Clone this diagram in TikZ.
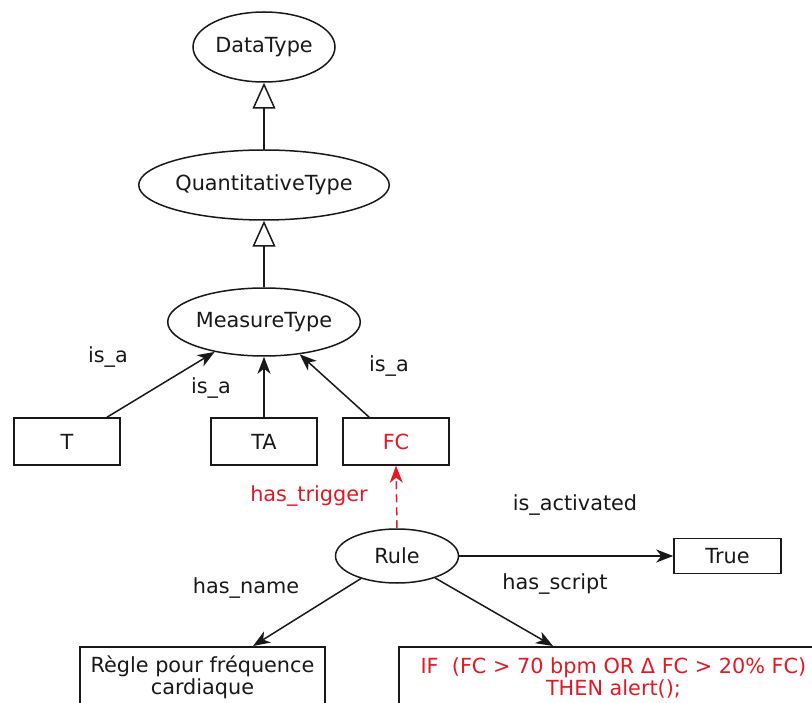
\documentclass[tikz,border=0pt]{standalone}
\usepackage{fontspec}
\setmainfont{DejaVu Sans}
\usetikzlibrary{shapes.geometric,arrows.meta,calc}
\definecolor{redtxt}{RGB}{228,24,36}
\definecolor{ink}{RGB}{25,25,25}
\tikzset{
  txt/.style={font=\fontsize{20.8}{22}\selectfont},
  ell/.style={ellipse,draw=ink,line width=1.5pt,inner sep=0pt,text=ink,txt},
  box/.style={rectangle,draw=ink,line width=1.5pt,inner sep=0pt,text=ink,txt,align=center},
  lbl/.style={text=ink,txt,inner sep=0pt},
  isa/.style={draw=ink,line width=1.5pt,-{Stealth[length=17pt,width=13pt,inset=5pt]}},
  gen/.style={draw=ink,line width=1.5pt,-{Triangle[open,length=26pt,width=23pt]}},
}
\begin{document}
\begin{tikzpicture}[x=1pt,y=-1pt]
\useasboundingbox (0,0) rectangle (812,703);
\clip (0,0) rectangle (812,703);
\fill[white] (0,0) rectangle (812,703);

\node[ell,minimum width=142pt,minimum height=70pt] (dt) at (264,47) {DataType};
\node[ell,minimum width=200pt,minimum height=70pt] (qt) at (264,185) {QuantitativeType};
\node[ell,minimum width=188pt,minimum height=68pt] (mt) at (264,322) {MeasureType};

\node[box,minimum width=106pt,minimum height=47pt] (t) at (67,441.5) {T};
\node[box,minimum width=106pt,minimum height=47pt] (ta) at (264,441.5) {TA};
\node[box,minimum width=106pt,minimum height=47pt,text=redtxt] (fc) at (396,441.5) {FC};

\node[ell,minimum width=123pt,minimum height=54pt] (rule) at (397,556) {Rule};
\node[box,minimum width=107pt,minimum height=35pt] (true) at (727.5,556) {True};
\node[box,anchor=north,minimum width=245pt,minimum height=62pt] (regle) at (202.5,646) {Règle pour fréquence\\cardiaque};
\node[box,anchor=north,minimum width=429pt,minimum height=62pt,text=redtxt] (ifbox) at (613.5,646) {IF~~(FC > 70 bpm OR Δ FC > 20\% FC)\\THEN alert();};

\draw[gen] (qt.north) -- (dt.south);
\draw[gen] (mt.north) -- (qt.south);

\draw[isa] (t) -- (mt);
\draw[isa] (ta) -- (mt);
\draw[isa] (fc) -- (mt);

\draw[isa,draw=redtxt,dash pattern=on 8pt off 5pt] (rule.north) -- (fc.south);
\draw[isa] (rule) -- (true);
\draw[isa] (rule) -- ($(regle.north)+(50.5,0)$);
\draw[isa] (rule) -- ($(ifbox.north)+(-60.5,0)$);

\node[lbl] (l1) at (108,357) {is\_a};
\node[lbl] (l2) at (211,388) {is\_a};
\node[lbl] (l3) at (389,366) {is\_a};
\node[lbl,text=redtxt] (l4) at (309,496) {has\_trigger};
\node[lbl] (l5) at (575,505) {is\_activated};
\node[lbl] (l6) at (246,588) {has\_name};
\node[lbl] (l7) at (555,584) {has\_script};
\end{tikzpicture}
\end{document}
